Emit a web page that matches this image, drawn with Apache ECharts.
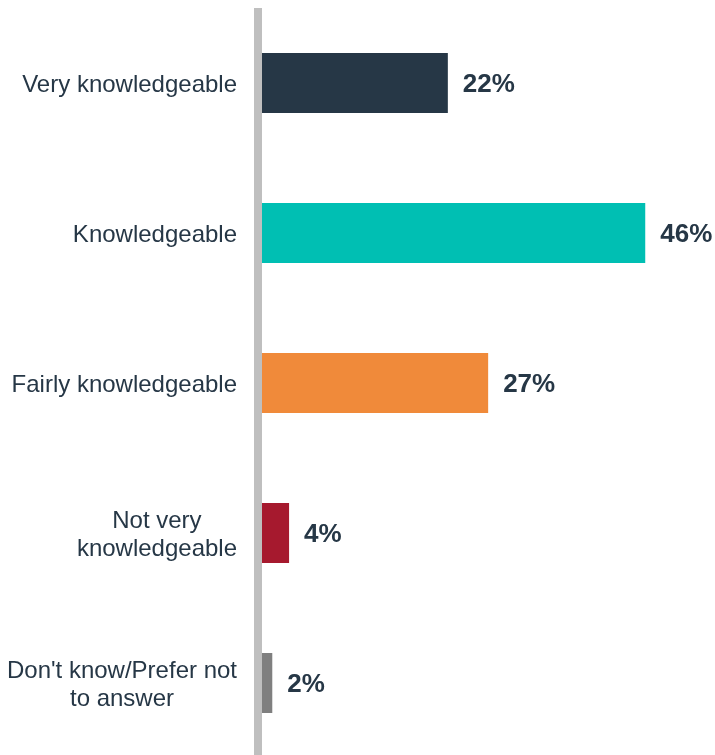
<!DOCTYPE html>
<html>
<head>
<meta charset="utf-8">
<script src="https://cdn.jsdelivr.net/npm/echarts@6/dist/echarts.min.js"></script>
<style>
  html, body { margin: 0; padding: 0; background: #fff; }
  #main { width: 715px; height: 755px; }
</style>
</head>
<body>
<div id="main"></div>
<script>
// categories, top to bottom
var categories = ['Very knowledgeable', 'Knowledgeable', 'Fairly knowledgeable', 'Not very\nknowledgeable', "Don't know/Prefer not\nto answer"];
// bar lengths (%)
var values = [22.6, 46.1, 27.4, 3.7, 1.7];
// printed labels
var labels = ['22%', '46%', '27%', '4%', '2%'];
var colors = ['#263746', '#00BFB3', '#F08A3A', '#A6192E', '#7F7F7F'];

var FONT = "'Liberation Sans', Arial, sans-serif";

var myChart = echarts.init(document.getElementById('main'));

var data = [];
for (var i = 0; i < values.length; i++) {
    data.push({ value: values[i], itemStyle: { color: colors[i] } });
}

var option = {
    animation: false,
    grid: { left: 258, width: 420, top: 8, height: 750, containLabel: false, outerBoundsMode: 'none' },
    xAxis: {
        type: 'value',
        min: 0,
        max: 50,
        show: false
    },
    yAxis: {
        type: 'category',
        inverse: true,
        data: categories,
        z: 5,
        axisLine: { show: true, lineStyle: { color: '#BFBFBF', width: 8, cap: 'butt' } },
        axisTick: { show: false },
        axisLabel: {
            margin: 21,
            align: 'right',
            padding: [4, 0, 0, 0],
            // each line centred inside the label block, like the original
            formatter: function (v) {
                return v.split('\n').map(function (s) { return '{c|' + s + '}'; }).join('\n');
            },
            rich: {
                c: {
                    align: 'center',
                    color: '#263746',
                    fontSize: 24,
                    fontFamily: FONT,
                    lineHeight: 28
                }
            }
        }
    },
    series: [{
        type: 'bar',
        data: data,
        barWidth: 60,
        label: {
            show: true,
            position: 'right',
            distance: 15,
            offset: [0, 2],
            color: '#263746',
            fontWeight: 'bold',
            fontSize: 26,
            fontFamily: FONT,
            formatter: function (p) { return labels[p.dataIndex]; }
        }
    }]
};

myChart.setOption(option);
</script>
</body>
</html>
